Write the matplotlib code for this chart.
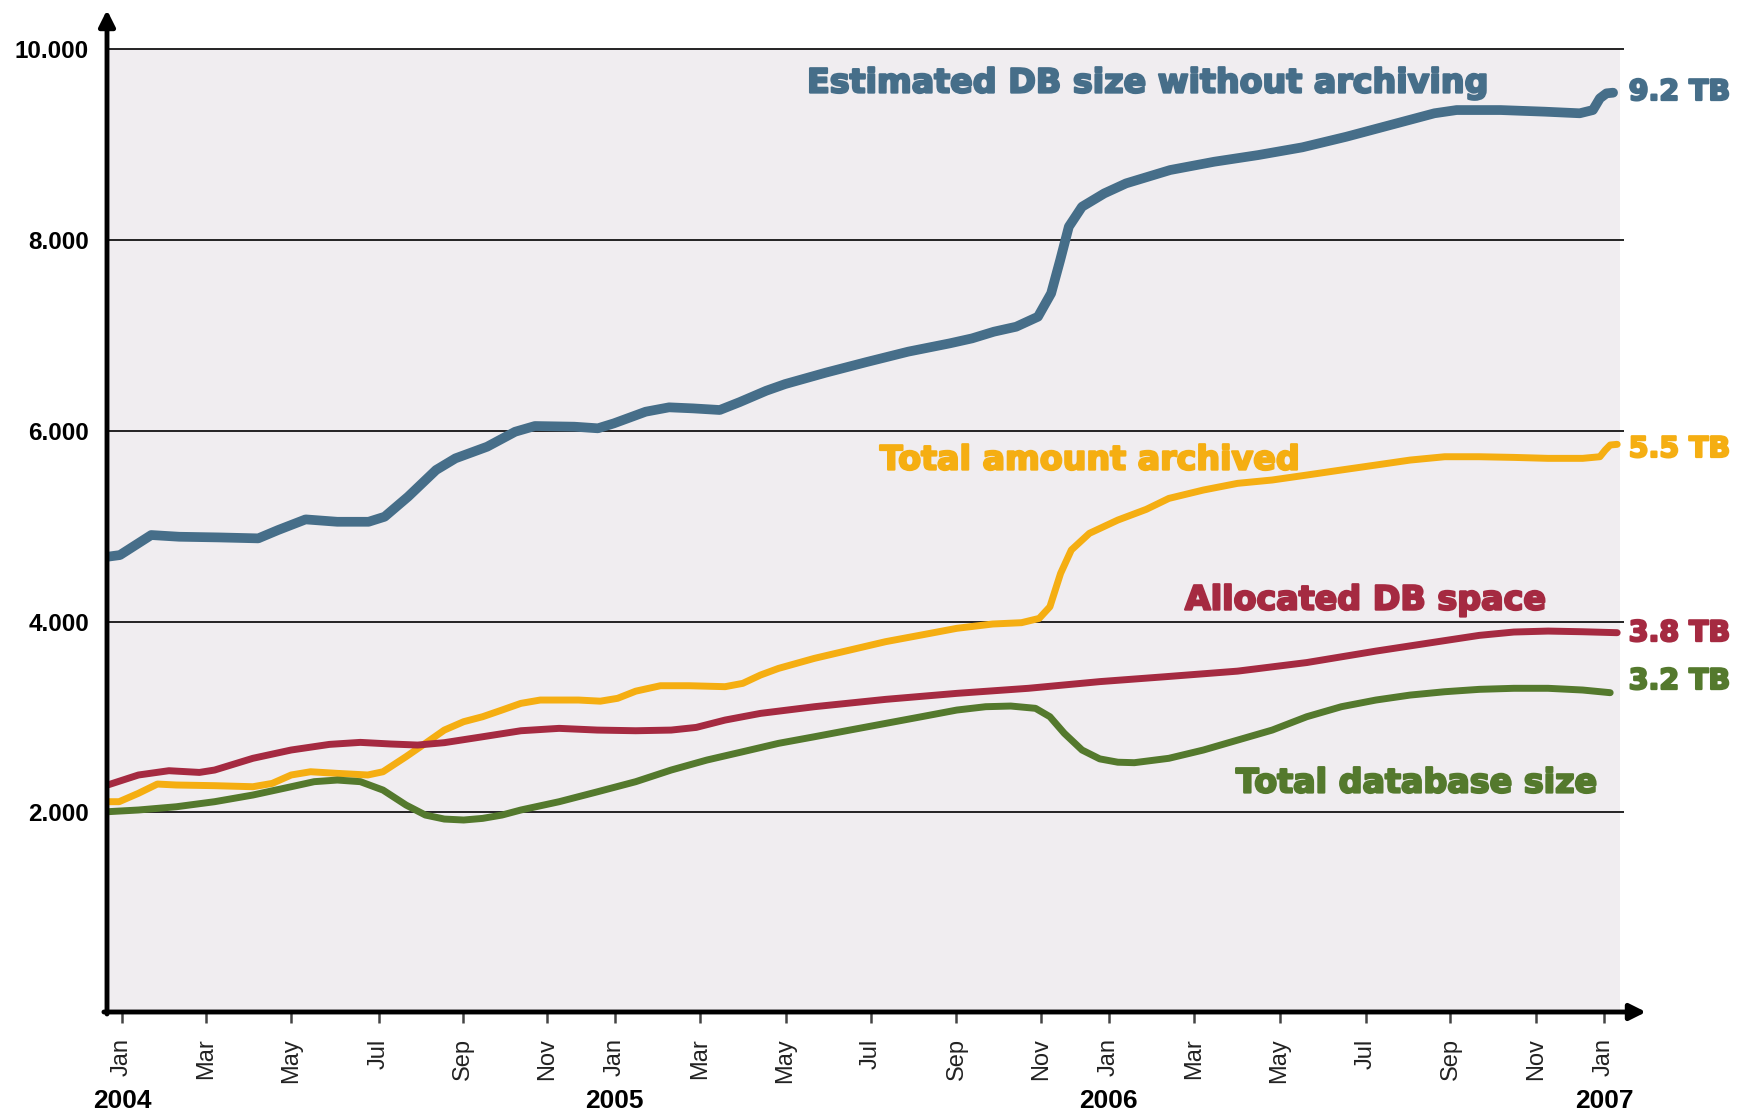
import numpy as np
import matplotlib.pyplot as plt
import matplotlib.patheffects as pe
from matplotlib.patches import Rectangle

# x in months since Jan 2004, y in GB
est_m = [-0.34, -0.05, 0.33, 0.71, 1.39, 2.35, 3.31, 3.79, 4.46, 5.23, 5.99, 6.38, 6.95, 7.63, 8.10, 8.87,
         9.55, 10.03, 10.99, 11.56, 11.95, 12.72, 13.29, 13.87, 14.52, 15.0, 15.65, 16.11, 17.1, 18.08, 19.1,
         20.11, 20.65, 21.18, 21.72, 22.25, 22.57, 22.79, 23.00, 23.32, 23.86, 24.39, 25.46, 26.53, 27.60,
         28.67, 29.74, 30.81, 31.88, 32.42, 33.49, 34.56, 35.41, 35.73, 35.90, 36.06, 36.22]
est_v = [4680, 4697, 4802, 4907, 4889, 4882, 4872, 4959, 5071, 5046, 5046, 5099, 5309, 5589, 5711, 5833,
         5990, 6050, 6043, 6026, 6078, 6200, 6246, 6235, 6218, 6300, 6420, 6490, 6610, 6720, 6830,
         6917, 6969, 7039, 7091, 7196, 7441, 7790, 8140, 8349, 8489, 8594, 8734, 8821, 8891,
         8972, 9083, 9206, 9329, 9363, 9363, 9346, 9329, 9363, 9486, 9538, 9545]

arch_m = [-0.35, -0.07, 0.40, 0.86, 1.32, 2.25, 3.18, 3.65, 4.11, 4.58, 5.23, 5.97, 6.34, 6.90, 7.37, 7.83,
          8.30, 8.76, 9.23, 9.69, 10.16, 11.09, 11.62, 12.04, 12.48, 13.08, 13.78, 14.65, 15.08, 15.51, 15.95,
          16.82, 17.68, 18.55, 19.42, 20.28, 21.15, 21.85, 22.28, 22.54, 22.80, 23.06, 23.50, 24.19, 24.88,
          25.43, 26.27, 27.10, 27.94, 28.78, 29.62, 30.46, 31.29, 32.13, 32.97, 33.81, 34.64, 35.48, 35.90,
          36.03, 36.15, 36.32]
arch_v = [2111, 2111, 2199, 2296, 2286, 2279, 2268, 2303, 2391, 2425, 2408, 2391, 2425, 2583, 2723, 2862,
          2950, 3002, 3072, 3142, 3177, 3177, 3165, 3195, 3270, 3327, 3327, 3317, 3352, 3439, 3509,
          3614, 3701, 3789, 3859, 3929, 3974, 3988, 4033, 4155, 4505, 4750, 4925, 5064, 5176,
          5291, 5379, 5449, 5484, 5536, 5589, 5641, 5693, 5728, 5728, 5721, 5711, 5711, 5728,
          5798, 5851, 5858]

alloc_m = [-0.35, 0.40, 1.14, 1.88, 2.25, 3.18, 4.11, 5.04, 5.79, 6.53, 7.18, 7.83, 8.76, 9.69, 10.62, 11.55,
           12.48, 13.34, 13.95, 14.65, 15.51, 16.82, 18.55, 20.28, 22.02, 23.75, 25.3, 27.10, 28.78, 30.46,
           32.13, 32.97, 33.81, 34.64, 35.48, 36.32]
alloc_v = [2286, 2391, 2436, 2418, 2443, 2566, 2653, 2712, 2733, 2716, 2705, 2730, 2792, 2855, 2880, 2862,
           2855, 2862, 2890, 2967, 3037, 3107, 3184, 3247, 3300, 3370, 3420, 3480, 3570, 3690,
           3800, 3855, 3890, 3900, 3893, 3883]

db_m = [-0.35, 0.40, 1.32, 2.25, 3.18, 4.11, 4.67, 5.23, 5.79, 6.34, 6.90, 7.37, 7.83, 8.30, 8.76, 9.23,
        9.69, 10.62, 11.55, 12.48, 13.34, 14.21, 15.08, 15.95, 16.82, 17.68, 18.55, 19.42, 20.28, 20.98,
        21.59, 22.19, 22.54, 22.89, 23.32, 23.75, 24.19, 24.59, 25.43, 26.27, 27.10, 27.94, 28.78, 29.62,
        30.46, 31.29, 32.13, 32.97, 33.81, 34.64, 35.48, 36.15]
db_v = [2006, 2024, 2058, 2111, 2181, 2268, 2321, 2338, 2321, 2233, 2076, 1971, 1929, 1919, 1936, 1971,
        2024, 2111, 2215, 2321, 2443, 2548, 2635, 2723, 2792, 2862, 2932, 3002, 3072, 3107,
        3114, 3090, 3002, 2828, 2653, 2560, 2525, 2520, 2566, 2653, 2757, 2862, 3002, 3107,
        3177, 3229, 3264, 3289, 3300, 3300, 3282, 3254]

tick_pos = [0, 2.05, 4.1, 6.24, 8.28, 10.33, 11.97, 14.04, 16.12, 18.19, 20.27, 22.33, 23.97,
            26.04, 28.12, 30.22, 32.27, 34.36, 36]
month_labels = ['Jan', 'Mar', 'May', 'Jul', 'Sep', 'Nov'] * 3 + ['Jan']
years = ['2004', '2005', '2006', '2007']
year_pos = [0, 11.97, 23.97, 36]
ygrid = [2000, 4000, 6000, 8000, 10000]
ylabels = ['2.000', '4.000', '6.000', '8.000', '10.000']

c_blue = '#466E89'
c_yel = '#F5AE12'
c_red = '#A52A41'
c_grn = '#54792D'

fig = plt.figure(figsize=(17.42, 11.14), dpi=100)
ax = fig.add_axes([107 / 1742, 102 / 1114, (1646 - 107) / 1742, 1002 / 1114])
ax.set_xlim(-0.364, 37.02)
ax.set_ylim(-94, 10412)
for s in ax.spines.values():
    s.set_visible(False)
ax.patch.set_visible(False)

# plot area background and grid
ax.add_patch(Rectangle((-0.364, -94), 36.39 + 0.364, 10094, fc='#F0EDF0', ec='none', zorder=0))
ax.hlines(ygrid, -0.364, 36.48, color='black', lw=1.2, zorder=1)

kw = dict(solid_capstyle='round', solid_joinstyle='round', zorder=3)
ax.plot(est_m, est_v, color=c_blue, lw=7, **kw)
ax.plot(arch_m, arch_v, color=c_yel, lw=5, **kw)
ax.plot(alloc_m, alloc_v, color=c_red, lw=5, **kw)
ax.plot(db_m, db_v, color=c_grn, lw=5, **kw)

# axis arrows
arrow = dict(arrowstyle='-|>', lw=3.5, color='black', mutation_scale=24, shrinkA=0, shrinkB=0)
ax.annotate('', xy=(0, 1), xytext=(0, -0.002), xycoords='axes fraction', arrowprops=arrow)
ax.annotate('', xy=(1, 0), xytext=(-0.002, 0), xycoords='axes fraction', arrowprops=arrow)

ax.set_xticks(tick_pos, month_labels, rotation=90, fontsize=17, family='Liberation Sans', color='#222222')
ax.tick_params(axis='x', length=8, width=1.8, color='#444444', pad=11)
ax.set_yticks(ygrid, ylabels, fontsize=17.5, family='Liberation Sans', weight='bold')
ax.tick_params(axis='y', length=0, pad=13)

for yr, xp in zip(years, year_pos):
    ax.text(xp, -0.089, yr, transform=ax.get_xaxis_transform(), ha='center', va='center',
            fontsize=19, weight='bold', family=['Liberation Sans Narrow', 'Liberation Sans'])

lab = dict(family='DejaVu Sans', weight='bold', va='center', ha='left')


def heavy(c):
    return [pe.withStroke(linewidth=1.6, foreground=c)]


ax.text(16.64, 9646, 'Estimated DB size without archiving', color=c_blue, fontsize=24,
        path_effects=heavy(c_blue), **lab)
ax.text(18.41, 5693, 'Total amount archived', color=c_yel, fontsize=24, path_effects=heavy(c_yel), **lab)
ax.text(25.82, 4225, 'Allocated DB space', color=c_red, fontsize=24, path_effects=heavy(c_red), **lab)
ax.text(27.06, 2307, 'Total database size', color=c_grn, fontsize=24, path_effects=heavy(c_grn), **lab)

ax.text(36.6, 9552, '9.2 TB', color=c_blue, fontsize=20.5, path_effects=heavy(c_blue), **lab)
ax.text(36.6, 5809, '5.5 TB', color=c_yel, fontsize=20.5, path_effects=heavy(c_yel), **lab)
ax.text(36.6, 3879, '3.8 TB', color=c_red, fontsize=20.5, path_effects=heavy(c_red), **lab)
ax.text(36.6, 3376, '3.2 TB', color=c_grn, fontsize=20.5, path_effects=heavy(c_grn), **lab)

plt.savefig('out.png', dpi=100)
